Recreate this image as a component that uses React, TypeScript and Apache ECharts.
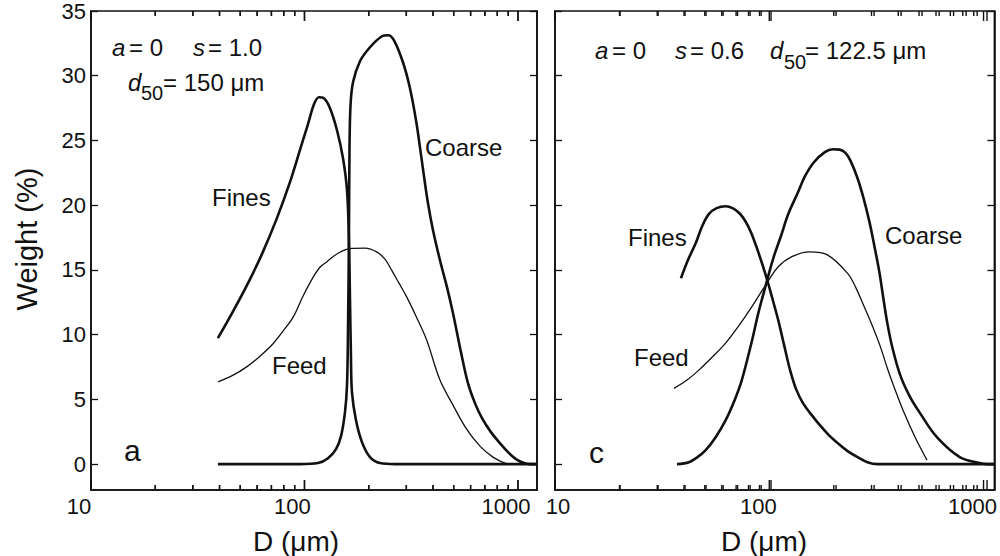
import React, { useEffect, useRef } from 'react';
import * as echarts from 'echarts';

const FONT = '"Liberation Sans", Arial, Helvetica, sans-serif';
const INK = '#111';

// Axis ticks (D in µm and Weight in %)
const xMajor = [10, 100, 1000];
const xMinor = [20, 30, 40, 50, 60, 70, 80, 90, 200, 300, 400, 500, 600, 700, 800, 900];
const yTicks = [0, 5, 10, 15, 20, 25, 30, 35];
const yMin = -2;
const yMax = 35;

// Panel a (s = 1.0, d50 = 150 µm): [D (µm), Weight (%)]
const finesA: [number, number][] = [
  [39.3, 9.73], [45.8, 11.66], [53.8, 13.82], [63.2, 16.22], [74.3, 19.0], [85.5, 21.78],
  [95.2, 24.25], [103.8, 26.25], [110.8, 27.8], [116.9, 28.34], [123.4, 28.26], [131.7, 27.49],
  [142.0, 25.79], [151.5, 23.63], [158.2, 21.16], [161.6, 17.3], [163.4, 12.66], [165, 8.5],
  [166.9, 5.56], [174.2, 3.4], [185.9, 1.7], [202.7, 0.54], [225.8, 0.08], [265.4, 0], [1228, 0],
];
const coarseA: [number, number][] = [
  [39.3, 0], [95.2, 0], [115.7, 0.08], [128.9, 0.46], [140.5, 1.16], [148.3, 2.16], [154.8, 4.02],
  [158.2, 6.1], [159.9, 10.35], [161.6, 18.07], [162.5, 24.25], [164.3, 27.72], [168.8, 29.5],
  [182.0, 31.12], [202.7, 32.2], [230.7, 33.05], [246, 33.13], [262.6, 32.74], [289.3, 31.04],
  [312.0, 29.03], [333, 26.56], [347.5, 24.48], [362.9, 22.24], [378.9, 20.15], [400, 18.07],
  [431.2, 15.75], [465, 13.67], [496.3, 11.66], [540.8, 8.65], [583.2, 6.25], [628.8, 4.71],
  [678.5, 3.55], [747.2, 2.47], [823.5, 1.62], [898, 0.93], [979, 0.39], [1067, 0.08],
  [1138, 0], [1228, 0],
];
const feedA: [number, number][] = [
  [39.4, 6.36], [46.3, 6.87], [53.6, 7.51], [61.9, 8.34], [71.4, 9.32], [79.3, 10.27],
  [88.6, 11.37], [98.4, 12.97], [110, 14.46], [118.2, 15.21], [127.1, 15.62], [143.6, 16.29],
  [166.4, 16.66], [192.1, 16.68], [217.9, 16.39], [238.2, 15.83], [256, 14.98], [277.1, 13.98],
  [301.1, 12.92], [336.5, 11.27], [373.6, 9.58], [431.2, 6.49], [496.3, 4.56], [570.7, 2.78],
  [663.7, 1.39], [763.7, 0.54], [869, 0.08], [937.6, 0],
];

// Panel c (s = 0.6, d50 = 122.5 µm)
const finesC: [number, number][] = [
  [38.7, 14.36], [41.7, 15.75], [45.4, 17.07], [48.4, 18.3], [52.2, 19.31], [56.8, 19.77],
  [62.6, 19.92], [67.4, 19.77], [72.6, 19.38], [77.4, 18.76], [82.5, 17.84], [88.9, 16.37],
  [96.9, 14.44], [103.3, 12.82], [110.1, 11.12], [117.3, 9.19], [125.1, 7.26], [133.4, 5.79],
  [143.7, 4.71], [156.5, 3.86], [172.2, 3.01], [189.6, 2.24], [208.7, 1.62], [232.1, 1.0],
  [258.2, 0.54], [287.2, 0.15], [319.6, 0], [1124, 0],
];
const coarseC: [number, number][] = [
  [37.1, 0], [42.2, 0.15], [45.9, 0.5], [50.5, 1.08], [56.2, 2.08], [62.6, 3.4], [68.9, 4.94],
  [74.2, 6.41], [82.5, 9.34], [88.9, 11.66], [96.9, 13.98], [104.4, 15.9], [113.7, 17.68],
  [122.5, 19.3], [136.2, 21.0], [146.8, 22.24], [161.6, 23.32], [181.7, 24.1], [197.9, 24.32],
  [213.2, 24.29], [227.3, 24.02], [239.8, 23.4], [258.2, 22.08], [275.4, 20.54], [293.6, 18.69],
  [309.6, 16.83], [326.5, 14.83], [340.7, 12.82], [355.6, 10.89], [375.1, 9.03], [408.5, 6.87],
  [454.4, 5.17], [505.3, 3.94], [606.0, 2.08], [774.4, 0.54], [958.3, 0.08], [1032, 0],
  [1124, 0],
];
const feedC: [number, number][] = [
  [35.9, 5.85], [41.3, 6.49], [46.9, 7.26], [53.9, 8.23], [62.4, 9.32], [71.9, 10.66],
  [82.8, 12.15], [97.2, 13.95], [110.1, 15.24], [126.8, 16.01], [154.3, 16.39], [187.6, 16.14],
  [232.1, 14.73], [252.8, 13.67], [277.4, 12.15], [303, 10.66], [331.1, 9.0], [355.6, 7.41],
  [387.3, 5.71], [426.4, 3.94], [479.3, 2.08], [544.6, 0.31],
];

const xMaxA = 1228;
const xMaxC = 1124;

const GRIDS = [
  { left: 91, right: 463, top: 11, bottom: 66 },
  { left: 555, right: 2, top: 11, bottom: 66 },
];
const W = 1000;
const H = 556;
const unitsPerPx = (yMax - yMin) / (H - GRIDS[0].top - GRIDS[0].bottom);

const tickStyle = { color: INK, width: 1.3 };
const frameLine = { show: true, onZero: false, lineStyle: { color: INK, width: 1.6 } };

function labelFormatter(shiftFirst: number, shift: number) {
  const pad = (s: number) => (s < 0 ? [0, -2 * s, 0, 0] : [0, 0, 0, 2 * s]);
  return {
    formatter: (v: number) => {
      const r = Math.round(v);
      return r === 10 ? `{f|${r}}` : `{n|${r}}`;
    },
    rich: {
      f: { fontFamily: FONT, fontSize: 22, color: INK, padding: pad(shiftFirst) },
      n: { fontFamily: FONT, fontSize: 22, color: INK, padding: pad(shift) },
    },
  };
}

function xAxisFor(gridIndex: number, max: number, shiftFirst: number, shift: number) {
  return {
    type: 'log' as const,
    logBase: 10,
    min: 10,
    max,
    gridIndex,
    position: 'bottom',
    splitLine: { show: false },
    minorTick: { show: false },
    axisLine: frameLine,
    axisTick: { show: false },
    axisLabel: {
      show: true,
      margin: 5,
      color: INK,
      fontFamily: FONT,
      fontSize: 22,
      ...labelFormatter(shiftFirst, shift),
    },
  };
}

function yAxesFor(gridIndex: number, labels: boolean) {
  const base = {
    type: 'value' as const,
    min: yMin,
    max: yMax,
    gridIndex,
    splitLine: { show: false },
  };
  return [
    {
      ...base,
      position: 'left',
      axisLine: frameLine,
      axisTick: { show: true, inside: true, length: 7, customValues: yTicks, lineStyle: tickStyle },
      axisLabel: {
        show: labels,
        customValues: yTicks,
        color: INK,
        fontFamily: FONT,
        fontSize: 22,
        margin: 5,
      },
    },
    {
      ...base,
      position: 'right',
      axisLine: frameLine,
      axisTick: { show: true, inside: true, length: 7, customValues: yTicks, lineStyle: tickStyle },
      axisLabel: { show: false },
    },
  ];
}

// x tick marks along bottom and top frames as a broken line series in data coordinates
function tickSeries(xi: number, yi: number) {
  const data: any[] = [];
  const seg = (v: number, px: number) => {
    const d = px * unitsPerPx;
    data.push([v, yMin], [v * 1.0004, yMin + d], [v, '-']);
    data.push([v, yMax], [v * 1.0004, yMax - d], [v, '-']);
  };
  xMajor.forEach((v) => seg(v, 10));
  xMinor.forEach((v) => seg(v, 5));
  return {
    type: 'line',
    name: 'ticks',
    xAxisIndex: xi,
    yAxisIndex: yi,
    data,
    symbol: 'none',
    showSymbol: false,
    connectNulls: false,
    clip: false,
    silent: true,
    smooth: false,
    lineStyle: { color: INK, width: 1.4 },
    itemStyle: { color: INK },
    z: 4,
  };
}

// same tick marks as plain rectangles, in case the series path is not drawn
function tickRects(gi: number, max: number) {
  const g = GRIDS[gi];
  const left = g.left;
  const right = W - g.right;
  const top = g.top;
  const bottom = H - g.bottom;
  const px = (v: number) => left + ((right - left) * Math.log10(v / 10)) / Math.log10(max / 10);
  const out: any[] = [];
  const add = (v: number, len: number) => {
    const x = px(v) - 0.7;
    out.push({ type: 'rect', z: 20, silent: true, shape: { x, y: bottom - len, width: 1.4, height: len }, style: { fill: INK } });
    out.push({ type: 'rect', z: 20, silent: true, shape: { x, y: top, width: 1.4, height: len }, style: { fill: INK } });
  };
  xMajor.forEach((v) => add(v, 10));
  xMinor.forEach((v) => add(v, 5));
  return out;
}

function curve(name: string, data: [number, number][], xi: number, yi: number, width: number) {
  return {
    type: 'line',
    name,
    data,
    xAxisIndex: xi,
    yAxisIndex: yi,
    symbol: 'none',
    smooth: 0.35,
    lineStyle: { color: INK, width },
    itemStyle: { color: INK },
    z: 3,
  };
}

function txt(
  x: number,
  y: number,
  text: string,
  size: number,
  extra: Record<string, unknown> = {},
  rotation = 0,
) {
  return {
    type: 'text',
    x,
    y,
    rotation,
    z: 10,
    style: {
      text,
      fontSize: size,
      fontFamily: FONT,
      fill: INK,
      align: 'left',
      verticalAlign: 'middle',
      ...extra,
    },
  };
}

const texts = [
  txt(27, 239, 'Weight (%)', 29, { align: 'center' }, Math.PI / 2),
  txt(296, 541, 'D (μm)', 28, { align: 'center' }),
  txt(764, 541, 'D (μm)', 28, { align: 'center' }),
  txt(112, 47, 'a', 24, { fontStyle: 'italic' }),
  txt(129, 47, '= 0', 24),
  txt(193, 47, 's', 24, { fontStyle: 'italic' }),
  txt(208, 47, '= 1.0', 24),
  txt(128, 82, 'd', 24, { fontStyle: 'italic' }),
  txt(141, 93, '50', 20),
  txt(163, 82, '= 150 μm', 24),
  txt(212, 197, 'Fines', 24),
  txt(272, 365, 'Feed', 24),
  txt(425, 147, 'Coarse', 24),
  txt(124, 450, 'a', 30),
  txt(595, 50, 'a', 24, { fontStyle: 'italic' }),
  txt(612, 50, '= 0', 24),
  txt(675, 50, 's', 24, { fontStyle: 'italic' }),
  txt(690, 50, '= 0.6', 24),
  txt(770, 50, 'd', 24, { fontStyle: 'italic' }),
  txt(784, 62, '50', 20),
  txt(805, 50, '= 122.5 μm', 24),
  txt(628, 237, 'Fines', 24),
  txt(634, 357, 'Feed', 24),
  txt(885, 235, 'Coarse', 24),
  txt(589, 452, 'c', 30),
];

export default function App() {
  const ref = useRef<HTMLDivElement>(null);

  useEffect(() => {
    if (!ref.current) return;
    const chart = echarts.init(ref.current, null, { renderer: 'svg' });
    const option = {
      animation: false,
      backgroundColor: '#fff',
      grid: GRIDS.map((g) => ({ ...g, show: true, borderColor: INK, borderWidth: 1.6 })),
      xAxis: [xAxisFor(0, xMaxA, -12, -12), xAxisFor(1, xMaxC, 3, -11)],
      yAxis: [...yAxesFor(0, true), ...yAxesFor(1, false)],
      series: [
        curve('Fines a', finesA, 0, 0, 2.6),
        curve('Coarse a', coarseA, 0, 0, 2.6),
        curve('Feed a', feedA, 0, 0, 1.3),
        curve('Fines c', finesC, 1, 2, 2.6),
        curve('Coarse c', coarseC, 1, 2, 2.6),
        curve('Feed c', feedC, 1, 2, 1.3),
        tickSeries(0, 0),
        tickSeries(1, 2),
      ],
      graphic: [...texts, ...tickRects(0, xMaxA), ...tickRects(1, xMaxC)],
    };
    chart.setOption(option as any);
    return () => chart.dispose();
  }, []);

  return (
    <div
      ref={ref}
      style={{ position: 'fixed', left: 0, top: 0, width: W, height: H, background: '#fff' }}
    />
  );
}
